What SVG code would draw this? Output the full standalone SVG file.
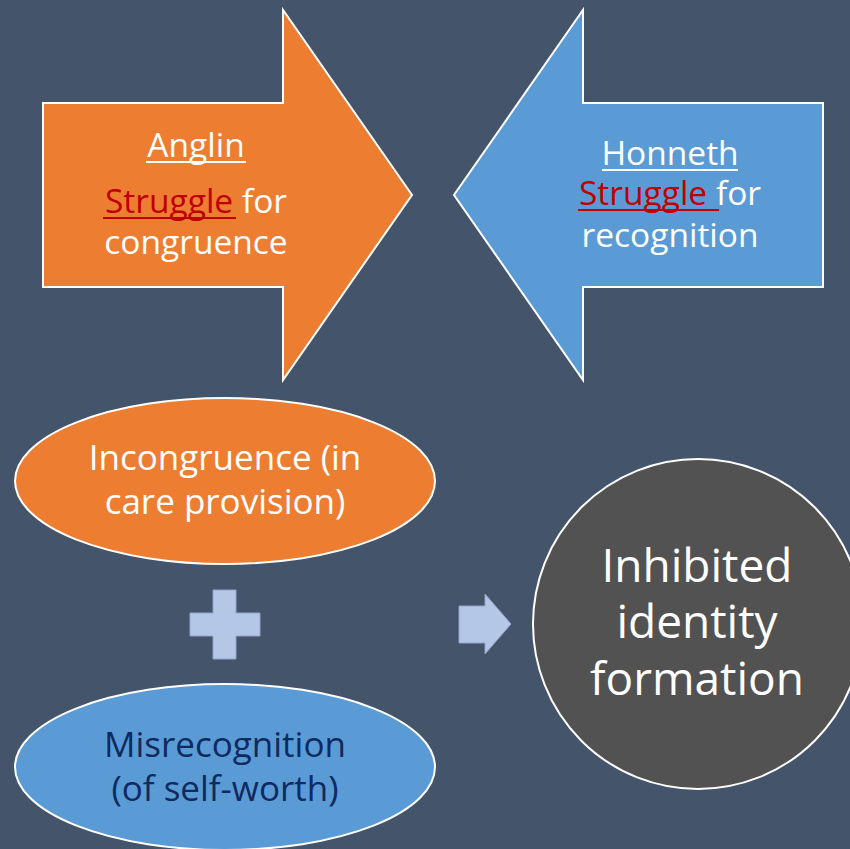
<svg xmlns="http://www.w3.org/2000/svg" width="850" height="849" viewBox="0 0 850 849">
<style>
.t{font-family:"Open Sans","Noto Sans","DejaVu Sans",sans-serif;fill:#ffffff;text-anchor:middle}
.red{fill:#c00000}
.shape{stroke:#ffffff;stroke-width:2}
.light{fill:#b4c7e7;stroke:#8ea5c9;stroke-width:1}
.ul{stroke:#ffffff;stroke-width:2}
.ulr{stroke:#c00000;stroke-width:2}
</style>
<rect width="850" height="849" fill="#44546a"/>
<g id="anglin">
<polygon class="shape" fill="#ed7d31" points="43,103 283,103 283,10 412,195 283,380 283,287 43,287"/>
<text class="t" x="196" y="157" font-size="33.5">Anglin</text>
<line class="ul" x1="146" y1="162" x2="246" y2="162"/>
<text class="t" x="196" y="213" font-size="33.5"><tspan class="red">Struggle</tspan> for</text>
<line class="ulr" x1="103" y1="218" x2="236" y2="218"/>
<text class="t" x="196" y="254" font-size="33.5">congruence</text>
</g>
<g id="honneth">
<polygon class="shape" fill="#5b9bd5" points="823,103 583,103 583,10 454,195 583,380 583,287 823,287"/>
<text class="t" x="670" y="165" font-size="33.5">Honneth</text>
<line class="ul" x1="602" y1="170" x2="738" y2="170"/>
<text class="t" x="670" y="205" font-size="33.5"><tspan class="red">Struggle </tspan>for</text>
<line class="ulr" x1="578" y1="210" x2="719" y2="210"/>
<text class="t" x="670" y="247" font-size="33.5">recognition</text>
</g>
<g id="incongruence">
<ellipse class="shape" fill="#ed7d31" cx="225" cy="481" rx="210" ry="83"/>
<text class="t" x="225" y="470" font-size="35">Incongruence (in</text>
<text class="t" x="225" y="514" font-size="35">care provision)</text>
</g>
<g id="misrecognition">
<ellipse class="shape" fill="#5b9bd5" cx="225" cy="767" rx="210" ry="83"/>
<text class="t" x="225" y="757" font-size="35" style="fill:#0f2a5e">Misrecognition</text>
<text class="t" x="225" y="801" font-size="35" style="fill:#0f2a5e">(of self-worth)</text>
</g>
<g id="plus">
<polygon class="light" points="213,590 236,590 236,613 260,613 260,636 236,636 236,659 213,659 213,636 190,636 190,613 213,613"/>
</g>
<g id="outcome">
<circle class="shape" fill="#525252" cx="698" cy="624" r="165"/>
<text class="t" x="697" y="582" font-size="46">Inhibited</text>
<text class="t" x="697" y="638" font-size="46">identity</text>
<text class="t" x="697" y="695" font-size="46">formation</text>
</g>
<g id="connectors">
<polygon class="light" points="459,606 485,606 485,594 511,624 485,654 485,643 459,643"/>
</g>
</svg>
